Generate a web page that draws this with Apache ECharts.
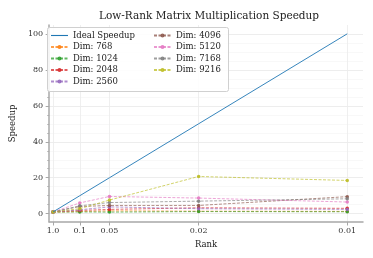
<!DOCTYPE html>
<html>
<head>
<meta charset="utf-8">
<script src="https://cdn.jsdelivr.net/npm/echarts@6/dist/echarts.min.js"></script>
<style>html,body{margin:0;padding:0;background:#fff}#c{width:373px;height:258px}</style>
</head>
<body>
<div id="c"></div>
<script>
const rankLabels = ['1.0', '0.1', '0.05', '0.02', '0.01'];
const speedupX = [1, 10, 20, 50, 100];
const idealSpeedup = [1, 10, 20, 50, 100];
const seriesNames = ['Dim: 768', 'Dim: 1024', 'Dim: 2048', 'Dim: 2560', 'Dim: 4096', 'Dim: 5120', 'Dim: 7168', 'Dim: 9216'];
const dim768 = [0.9, 1.2, 1.6, 1.4, 1.3];
const dim1024 = [0.9, 1.0, 0.9, 1.2, 1.1];
const dim2048 = [1.0, 1.8, 2.4, 3.3, 3.0];
const dim2560 = [1.0, 2.2, 3.8, 2.8, 2.4];
const dim4096 = [1.0, 4.0, 4.6, 4.6, 9.5];
const dim5120 = [1.0, 6.0, 9.6, 8.7, 6.5];
const dim7168 = [1.0, 4.4, 6.2, 7.0, 8.3];
const dim9216 = [1.0, 2.8, 7.6, 20.7, 18.5];
const yMajorTicks = [0, 20, 40, 60, 80, 100];
const yMinorTicks = [5, 10, 15, 25, 30, 35, 45, 50, 55, 65, 70, 75, 85, 90, 95];

const dimValues = [dim768, dim1024, dim2048, dim2560, dim4096, dim5120, dim7168, dim9216];
const colors = ['#ff7f0e', '#2ca02c', '#d62728', '#9467bd', '#8c564b', '#e377c2', '#7f7f7f', '#bcbd22'];
const font = 'DejaVu Serif';
const axisGray = '#a8a8a8';

const pairs = vals => vals.map((v, i) => [speedupX[i], v]);

const series = [{
  name: 'Ideal Speedup', type: 'line', data: pairs(idealSpeedup),
  showSymbol: false, symbol: 'none', color: '#1f77b4',
  lineStyle: { width: 0.9, color: '#1f77b4' }, z: 3
}];
seriesNames.forEach((n, k) => {
  series.push({
    name: n, type: 'line', data: pairs(dimValues[k]), color: colors[k],
    symbol: 'circle', symbolSize: 3.5,
    itemStyle: { color: colors[k], opacity: 0.9 },
    lineStyle: { width: 0.9, type: [3, 1.5], color: colors[k], opacity: 0.75 },
    z: 2
  });
});

const legendText = { fontFamily: font, fontSize: 8.5, color: '#222', lineHeight: 9 };
const chart = echarts.init(document.getElementById('c'), null, { renderer: 'canvas' });
chart.setOption({
  animation: false,
  backgroundColor: '#fff',
  textStyle: { fontFamily: font },
  title: {
    text: 'Low-Rank Matrix Multiplication Speedup', left: 204, top: 6, textAlign: 'center',
    textStyle: { fontFamily: font, fontSize: 10.5, fontWeight: 'normal', color: '#222' }
  },
  graphic: [{
    type: 'rect', shape: { x: 47.5, y: 27.5, width: 181, height: 64, r: 2 },
    style: { fill: 'rgba(255,255,255,0.85)', stroke: '#d0d0d0', lineWidth: 1 }, z: 100
  }],
  legend: [{
    data: [{ name: 'Ideal Speedup', itemStyle: { opacity: 0 }, lineStyle: { width: 1.1 } }, 'Dim: 768', 'Dim: 1024', 'Dim: 2048', 'Dim: 2560'],
    orient: 'vertical', left: 48, top: 31, itemWidth: 17, itemHeight: 5, itemGap: 2.5,
    textStyle: legendText, z: 101, padding: [0, 2], inactiveColor: '#ccc'
  }, {
    data: ['Dim: 4096', 'Dim: 5120', 'Dim: 7168', 'Dim: 9216'],
    orient: 'vertical', left: 151, top: 31, itemWidth: 17, itemHeight: 5, itemGap: 2.5,
    textStyle: legendText, z: 101, padding: [0, 2], inactiveColor: '#ccc'
  }],
  grid: { left: 42, right: 10, top: 25, bottom: 36 },
  xAxis: {
    type: 'value', min: -0.3, max: 105.3,
    name: 'Rank', nameLocation: 'middle', nameGap: 18,
    nameTextStyle: { fontFamily: font, fontSize: 8.5, color: '#222' },
    axisLine: { show: true, onZero: false, lineStyle: { color: axisGray, width: 1.5 } },
    axisTick: { show: true, customValues: speedupX, length: 3.5, lineStyle: { color: axisGray, width: 1 } },
    axisLabel: {
      customValues: speedupX, fontFamily: font, fontSize: 8, color: '#333', margin: 5,
      formatter: v => rankLabels[speedupX.indexOf(v)]
    },
    splitLine: { show: true, lineStyle: { color: '#ebebeb', width: 0.8 } }
  },
  yAxis: [{
    type: 'value', min: -4.6, max: 104.9,
    name: 'Speedup', nameLocation: 'middle', nameGap: 26,
    nameTextStyle: { fontFamily: font, fontSize: 8.5, color: '#222' },
    axisLine: { show: true, onZero: false, lineStyle: { color: axisGray, width: 1.5 } },
    axisTick: { show: true, customValues: yMajorTicks, length: 3.5, lineStyle: { color: axisGray, width: 1 } },
    axisLabel: { customValues: yMajorTicks, fontFamily: font, fontSize: 8, color: '#333', margin: 6 },
    splitLine: { show: true, lineStyle: { color: '#e8e8e8', width: 0.8 } }
  }, {
    type: 'value', min: -4.6, max: 104.9, position: 'left',
    axisLine: { show: false, onZero: false },
    axisTick: { show: true, customValues: yMinorTicks, length: 2, lineStyle: { color: axisGray, width: 0.8 } },
    axisLabel: { show: false, customValues: yMinorTicks },
    splitLine: { show: true, lineStyle: { color: '#f4f4f4', width: 0.6 } }
  }],
  series: series
});
</script>
</body>
</html>
